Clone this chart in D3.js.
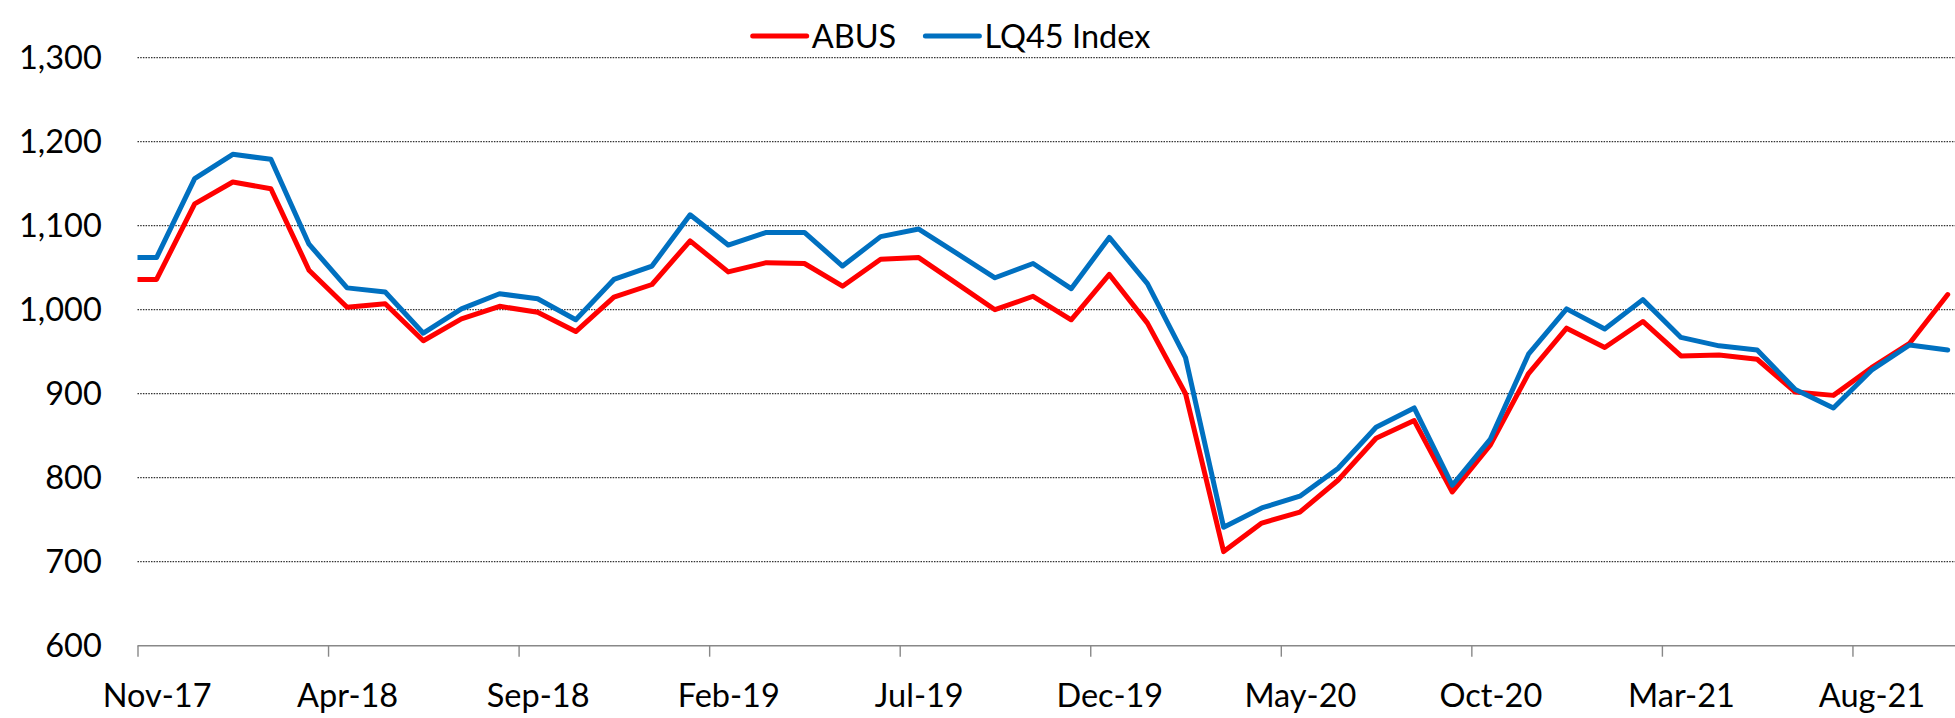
<!DOCTYPE html>
<html><head><meta charset="utf-8">
<script src="https://cdn.jsdelivr.net/npm/d3@7"></script>
<style>
body{margin:0;background:#fff}
text{font-family:Lato, "Open Sans", sans-serif;fill:#000}
</style></head>
<body><svg id="c" width="1955" height="718"></svg>
<script>
// Monthly categories (Oct-17 lies just left of the axis and is clipped)
const months = ["Oct-17","Nov-17","Dec-17","Jan-18","Feb-18","Mar-18","Apr-18","May-18","Jun-18","Jul-18","Aug-18","Sep-18","Oct-18","Nov-18","Dec-18",
  "Jan-19","Feb-19","Mar-19","Apr-19","May-19","Jun-19","Jul-19","Aug-19","Sep-19","Oct-19","Nov-19","Dec-19",
  "Jan-20","Feb-20","Mar-20","Apr-20","May-20","Jun-20","Jul-20","Aug-20","Sep-20","Oct-20","Nov-20","Dec-20",
  "Jan-21","Feb-21","Mar-21","Apr-21","May-21","Jun-21","Jul-21","Aug-21","Sep-21","Oct-21"];
const abus = [1036,1036,1126,1152,1144,1047,1003,1007,963,989,1004,997,974,1015,1030,
  1082,1045,1056,1055,1028,1060,1062,1031,1000,1016,988,1042,
  984,900,712,746,759,797,847,868,783,839,924,978,
  955,986,945,946,941,902,898,931,960,1018];
const lq45 = [1062,1062,1156,1185,1179,1078,1026,1021,972,1001,1019,1013,988,1036,1052,
  1113,1077,1092,1092,1052,1087,1096,1067,1038,1055,1025,1086,
  1031,943,741,764,778,811,860,883,791,846,947,1001,
  977,1012,967,957,952,905,883,928,958,952];
const seriesNames = ["ABUS","LQ45 Index"];
const seriesColors = ["#FF0000","#0070C0"];
const xTickLabels = ["Nov-17","Apr-18","Sep-18","Feb-19","Jul-19","Dec-19","May-20","Oct-20","Mar-21","Aug-21"];
const yTicks = [600,700,800,900,1000,1100,1200,1300];

const svg = d3.select("#c");
const left = 137.5, bw = 38.11, nBins = 48;
const x = d3.scaleLinear().domain([0, nBins]).range([left, left + nBins*bw]);
const y = d3.scaleLinear().domain([600,1300]).range([645.7, 57.7]);
const W = 1955;

// gridlines
svg.append("g").selectAll("line").data(yTicks.filter(v => v > 600)).join("line")
  .attr("x1", left).attr("x2", W).attr("y1", d => y(d)).attr("y2", d => y(d))
  .attr("stroke", "#333").attr("stroke-width", 1.2).attr("stroke-dasharray", "1.5,1.2");

// y labels
svg.append("g").selectAll("text").data(yTicks).join("text")
  .attr("x", 101.8).attr("y", d => y(d) + 11.5).attr("text-anchor", "end")
  .attr("font-size", 32.5).text(d => d3.format(",")(d));

// x axis
const tickIdx = xTickLabels.map((_, i) => i * 5);
const xAxis = d3.axisBottom(x).tickValues(tickIdx).tickSize(11).tickFormat((d, i) => xTickLabels[i]);
const gx = svg.append("g").attr("transform", `translate(0,${y(600)})`).call(xAxis);
gx.select(".domain").attr("d", `M${left},0H${W}`).attr("stroke", "#888").attr("stroke-width", 1.6);
gx.selectAll(".tick line").attr("stroke", "#888").attr("stroke-width", 1.4);
gx.selectAll(".tick text").attr("font-size", 32.5).attr("font-family", "Lato, sans-serif").attr("fill", "#000")
  .attr("dx", bw / 2).attr("dy", 0).attr("y", 61);

// clip
svg.append("clipPath").attr("id", "clip").append("rect")
  .attr("x", left).attr("y", 0).attr("width", W - left).attr("height", 718);

const line = d3.line().x((d, i) => x(i - 0.5)).y(d => y(d));
const g = svg.append("g").attr("clip-path", "url(#clip)");
[abus, lq45].forEach((s, k) => {
  g.append("path").attr("d", line(s)).attr("fill", "none")
    .attr("stroke", seriesColors[k]).attr("stroke-width", 5)
    .attr("stroke-linejoin", "round").attr("stroke-linecap", "round");
});

// legend
const legX = [752.7, 925.4];
const lg = svg.append("g");
seriesNames.forEach((n, k) => {
  lg.append("line").attr("x1", legX[k]).attr("x2", legX[k] + 54).attr("y1", 36).attr("y2", 36)
    .attr("stroke", seriesColors[k]).attr("stroke-width", 5).attr("stroke-linecap", "round");
  lg.append("text").attr("x", legX[k] + 59).attr("y", 48).attr("font-size", 32.5).text(n);
});
</script></body></html>
